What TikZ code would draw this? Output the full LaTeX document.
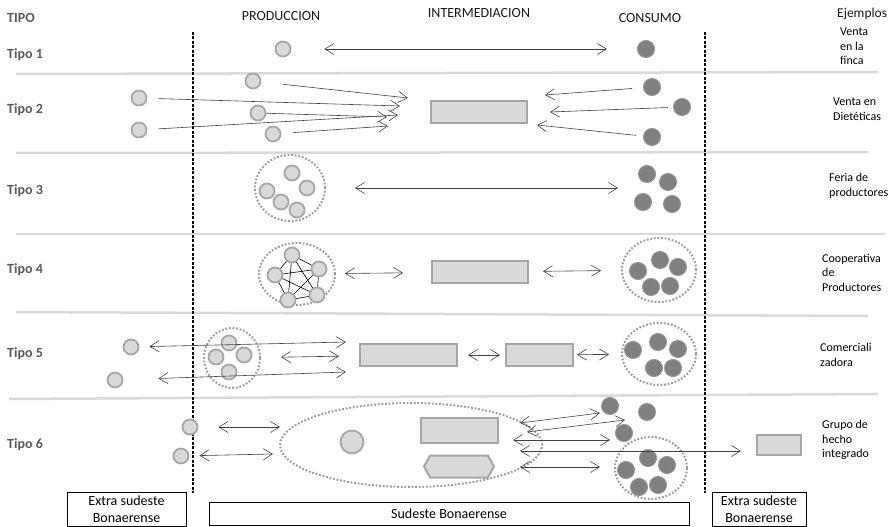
\documentclass[tikz,border=0pt]{standalone}
\usepackage{fontspec}
\setmainfont{Carlito}
\usetikzlibrary{shapes.geometric,shapes.symbols,arrows.meta}
\definecolor{fillgray}{HTML}{D9D9D9}
\definecolor{edgegray}{HTML}{A6A6A6}
\definecolor{dotgray}{HTML}{9A9A9A}
\definecolor{darkfill}{HTML}{808080}
\definecolor{labelgray}{HTML}{595959}
\definecolor{arrowgray}{HTML}{404040}
\tikzset{
  prod/.style={circle, fill=fillgray, draw=edgegray, line width=1.8bp, minimum size=15bp, inner sep=0pt},
  cons/.style={circle, fill=darkfill, draw=darkfill!85!white, line width=1bp, minimum size=17bp, inner sep=0pt},
  grupo/.style={ellipse, draw=dotgray, line width=2bp, dash pattern=on 1.8bp off 1.8bp, inner sep=0pt},
  caja/.style={rectangle, fill=fillgray, draw=edgegray, line width=2bp, inner sep=0pt},
  punta/.tip={Straight Barb[length=9bp,width=11bp]},
  flecha/.style={draw=arrowgray, line width=0.6bp, -punta},
  doble/.style={draw=arrowgray, line width=0.6bp, punta-punta},
  sep/.style={draw=fillgray, line width=2.5bp},
  limite/.style={line width=1.2bp, dash pattern=on 3bp off 1.5bp},
  tipo/.style={anchor=base west, font=\fontsize{14bp}{16bp}\selectfont\bfseries, text=labelgray, inner sep=0pt},
  cabeza/.style={anchor=base, font=\fontsize{14bp}{16bp}\selectfont, text=black!90, inner sep=0pt},
  ejemplo/.style={anchor=north west, align=left, font=\fontsize{12bp}{14.5bp}\selectfont, inner sep=0pt},
  zona/.style={draw, line width=0.8bp, align=center, font=\fontsize{14bp}{17.5bp}\selectfont, inner sep=0pt},
}
\begin{document}
\begin{tikzpicture}[x=1bp, y=-1bp]
  \useasboundingbox (0,0) rectangle (891,527);
  \draw[sep] (16,74) -- (878,72);
  \draw[sep] (16,153) -- (868,152);
  \draw[sep] (16,234) -- (885,234);
  \draw[sep] (16,312) -- (868,316);
  \draw[sep] (9,399) -- (878,394);
  \draw[limite] (193,32) -- (193,493);
  \draw[limite] (705,32) -- (705,493);

  \node[tipo] (tipo) at (7,23) {TIPO};
  \node[cabeza] (produccion) at (281,21) {PRODUCCION};
  \node[cabeza] (intermediacion) at (479,18) {INTERMEDIACION};
  \node[cabeza] (consumo) at (650,23) {CONSUMO};
  \node[cabeza, anchor=base west, font=\fontsize{13.5bp}{16bp}\selectfont] (ejemplos) at (837,18) {Ejemplos};

  \node[tipo] (tipo1) at (7,59) {Tipo 1};
  \node[tipo] (tipo2) at (7,114) {Tipo 2};
  \node[tipo] (tipo3) at (7,195) {Tipo 3};
  \node[tipo] (tipo4) at (7,274) {Tipo 4};
  \node[tipo] (tipo5) at (7,357) {Tipo 5};
  \node[tipo] (tipo6) at (7,448) {Tipo 6};

  \node[ejemplo] (ej1) at (840,28) {Venta\\en la\\finca};
  \node[ejemplo] (ej2) at (833,98) {Venta en\\Dietéticas};
  \node[ejemplo] (ej3) at (829,173) {Feria de\\productores};
  \node[ejemplo] (ej4) at (822,254) {Cooperativa\\de\\Productores};
  \node[ejemplo] (ej5) at (820,343) {Comerciali\\zadora};
  \node[ejemplo] (ej6) at (822,420) {Grupo de\\hecho\\integrado};

  % tipo 1
  \node[prod] (p1) at (283,49) {};
  \node[cons] (c1) at (646,49) {};
  \draw[doble, shorten <=33bp, shorten >=30bp] (p1) -- (c1);

  % tipo 2
  \node[prod] (p2a) at (253,81) {};
  \node[prod] (p2b) at (139,98) {};
  \node[prod] (p2c) at (258,113) {};
  \node[prod] (p2d) at (139,130) {};
  \node[prod] (p2e) at (273,134) {};
  \node[caja, minimum width=96bp, minimum height=22bp] (r2) at (479,112) {};
  \node[cons] (c2a) at (652,87) {};
  \node[cons] (c2b) at (682,107) {};
  \node[cons] (c2c) at (652,137) {};
  \coordinate (t2a) at (408,98);
  \coordinate (t2b) at (400,106);
  \coordinate (t2c) at (387,117);
  \coordinate (t2d) at (398,115);
  \coordinate (t2e) at (388,126);
  \coordinate (t2f) at (545,95);
  \coordinate (t2g) at (550,112);
  \coordinate (t2h) at (537,125);
  \draw[flecha, shorten <=22bp] (p2a) -- (t2a);
  \draw[flecha, shorten <=11bp] (p2b) -- (t2b);
  \draw[flecha] (p2c) -- (t2c);
  \draw[flecha, shorten <=11bp] (p2d) -- (t2d);
  \draw[flecha, shorten <=12bp] (p2e) -- (t2e);
  \draw[flecha, shorten <=11bp] (c2a) -- (t2f);
  \draw[flecha, shorten <=5bp] (c2b) -- (t2g);
  \draw[flecha, shorten <=7bp] (c2c) -- (t2h);

  % tipo 3
  \node[grupo, minimum width=70bp, minimum height=66bp] (g3) at (290,188) {};
  \node[prod] (p3a) at (292,173) {};
  \node[prod] (p3b) at (307,188) {};
  \node[prod] (p3c) at (267,191) {};
  \node[prod] (p3d) at (281,202) {};
  \node[prod] (p3e) at (297,210) {};
  \node[cons] (c3a) at (647,174) {};
  \node[cons] (c3b) at (668,182) {};
  \node[cons] (c3c) at (643,202) {};
  \node[cons] (c3d) at (672,204) {};
  \coordinate (t3) at (618,188);
  \draw[doble, shorten <=29bp] (g3) -- (t3);

  % tipo 4
  \node[grupo, minimum width=76bp, minimum height=62bp] (g4) at (297,274) {};
  \node[prod] (q1) at (292,255) {};
  \node[prod] (q2) at (319,269) {};
  \node[prod] (q3) at (317,295) {};
  \node[prod] (q4) at (288,300) {};
  \node[prod] (q5) at (275,275) {};
  \foreach \a/\b in {q1/q2,q1/q3,q1/q4,q1/q5,q2/q3,q2/q4,q2/q5,q3/q4,q3/q5,q4/q5}
    \draw[line width=0.6bp] (\a) -- (\b);
  \node[caja, minimum width=96bp, minimum height=22bp] (r4) at (480,272) {};
  \node[grupo, minimum width=74bp, minimum height=64bp] (h4) at (659,270) {};
  \node[cons] (c4a) at (660,260) {};
  \node[cons] (c4b) at (678,267) {};
  \node[cons] (c4c) at (638,271) {};
  \node[cons] (c4d) at (651,287) {};
  \node[cons] (c4e) at (670,286) {};
  \draw[doble, shorten <=9bp, shorten >=28bp] (g4) -- (r4);
  \draw[doble, shorten <=14bp, shorten >=20bp] (r4) -- (h4);

  % tipo 5
  \node[prod] (l5a) at (131,347) {};
  \node[prod] (l5b) at (115,380) {};
  \node[grupo, minimum width=56bp, minimum height=60bp] (g5) at (232,358) {};
  \node[prod] (p5a) at (229,343) {};
  \node[prod] (p5b) at (216,357) {};
  \node[prod] (p5c) at (244,355) {};
  \node[prod] (p5d) at (229,372) {};
  \node[caja, minimum width=97bp, minimum height=22bp] (r5a) at (408.5,355) {};
  \node[caja, minimum width=67bp, minimum height=22bp] (r5b) at (539.5,355) {};
  \node[grupo, minimum width=74bp, minimum height=62bp] (h5) at (659,354) {};
  \node[cons] (c5a) at (633,350) {};
  \node[cons] (c5b) at (658,342) {};
  \node[cons] (c5c) at (678,349) {};
  \node[cons] (c5d) at (654,368) {};
  \node[cons] (c5e) at (673,368) {};
  \coordinate (t5a) at (346,342);
  \coordinate (t5b) at (346,372);
  \draw[doble, shorten <=10bp] (l5a) -- (t5a);
  \draw[doble, shorten <=20bp, shorten >=20bp] (g5) -- (r5a);
  \draw[doble, shorten <=35bp] (l5b) -- (t5b);
  \draw[doble, shorten <=10bp, shorten >=5bp] (r5a) -- (r5b);
  \draw[doble, shorten <=3bp, shorten >=12bp] (r5b) -- (h5);

  % tipo 6
  \node[prod] (l6a) at (190,427) {};
  \node[prod] (l6b) at (181,456) {};
  \node[grupo, minimum width=262bp, minimum height=84bp] (g6) at (411,445) {};
  \node[prod, minimum size=23bp] (p6) at (352,442) {};
  \node[caja, minimum width=77bp, minimum height=25bp] (r6) at (459.5,430.5) {};
  \node[caja, shape=signal, signal to=west and east, signal pointer angle=122,
        minimum width=70bp, minimum height=22bp] (x6) at (459,466.5) {};
  \node[cons] (c6a) at (610,406) {};
  \node[cons] (c6b) at (647,412) {};
  \node[cons] (c6c) at (624,433) {};
  \node[grupo, minimum width=72bp, minimum height=62bp] (h6) at (651,468) {};
  \node[cons] (c6d) at (648,458) {};
  \node[cons] (c6e) at (667,465) {};
  \node[cons] (c6f) at (626,470) {};
  \node[cons] (c6g) at (639,487) {};
  \node[cons] (c6h) at (658,485) {};
  \node[caja, minimum width=44bp, minimum height=20bp] (r6x) at (779,445) {};
  \coordinate (t6a) at (280,427);
  \coordinate (t6b) at (273,454);
  \coordinate (s6a) at (520,423);
  \coordinate (e6a) at (600,413);
  \coordinate (s6b) at (527,432);
  \coordinate (e6b) at (625,420);
  \coordinate (s6c) at (513,440);
  \coordinate (e6c) at (610,440);
  \coordinate (s6d) at (520,451);
  \coordinate (s6e) at (520,467);
  \coordinate (e6e) at (600,467);
  \draw[doble, shorten <=20bp] (l6a) -- (t6a);
  \draw[doble, shorten <=10bp] (l6b) -- (t6b);
  \draw[doble] (s6a) -- (e6a);
  \draw[doble] (s6b) -- (e6b);
  \draw[doble] (s6c) -- (e6c);
  \draw[doble, shorten >=15bp] (s6d) -- (s6d -| r6x.west);
  \draw[doble] (s6e) -- (e6e);

  % zonas
  \node[zona, minimum width=119bp, minimum height=34bp] (extra1) at (126.5,509) {Extra sudeste\\Bonaerense};
  \node[zona, minimum width=480bp, minimum height=23.5bp] (sudeste) at (449,513.75) {Sudeste Bonaerense};
  \node[zona, minimum width=94bp, minimum height=34bp] (extra2) at (759,509) {Extra sudeste\\Bonaerense};
\end{tikzpicture}
\end{document}
